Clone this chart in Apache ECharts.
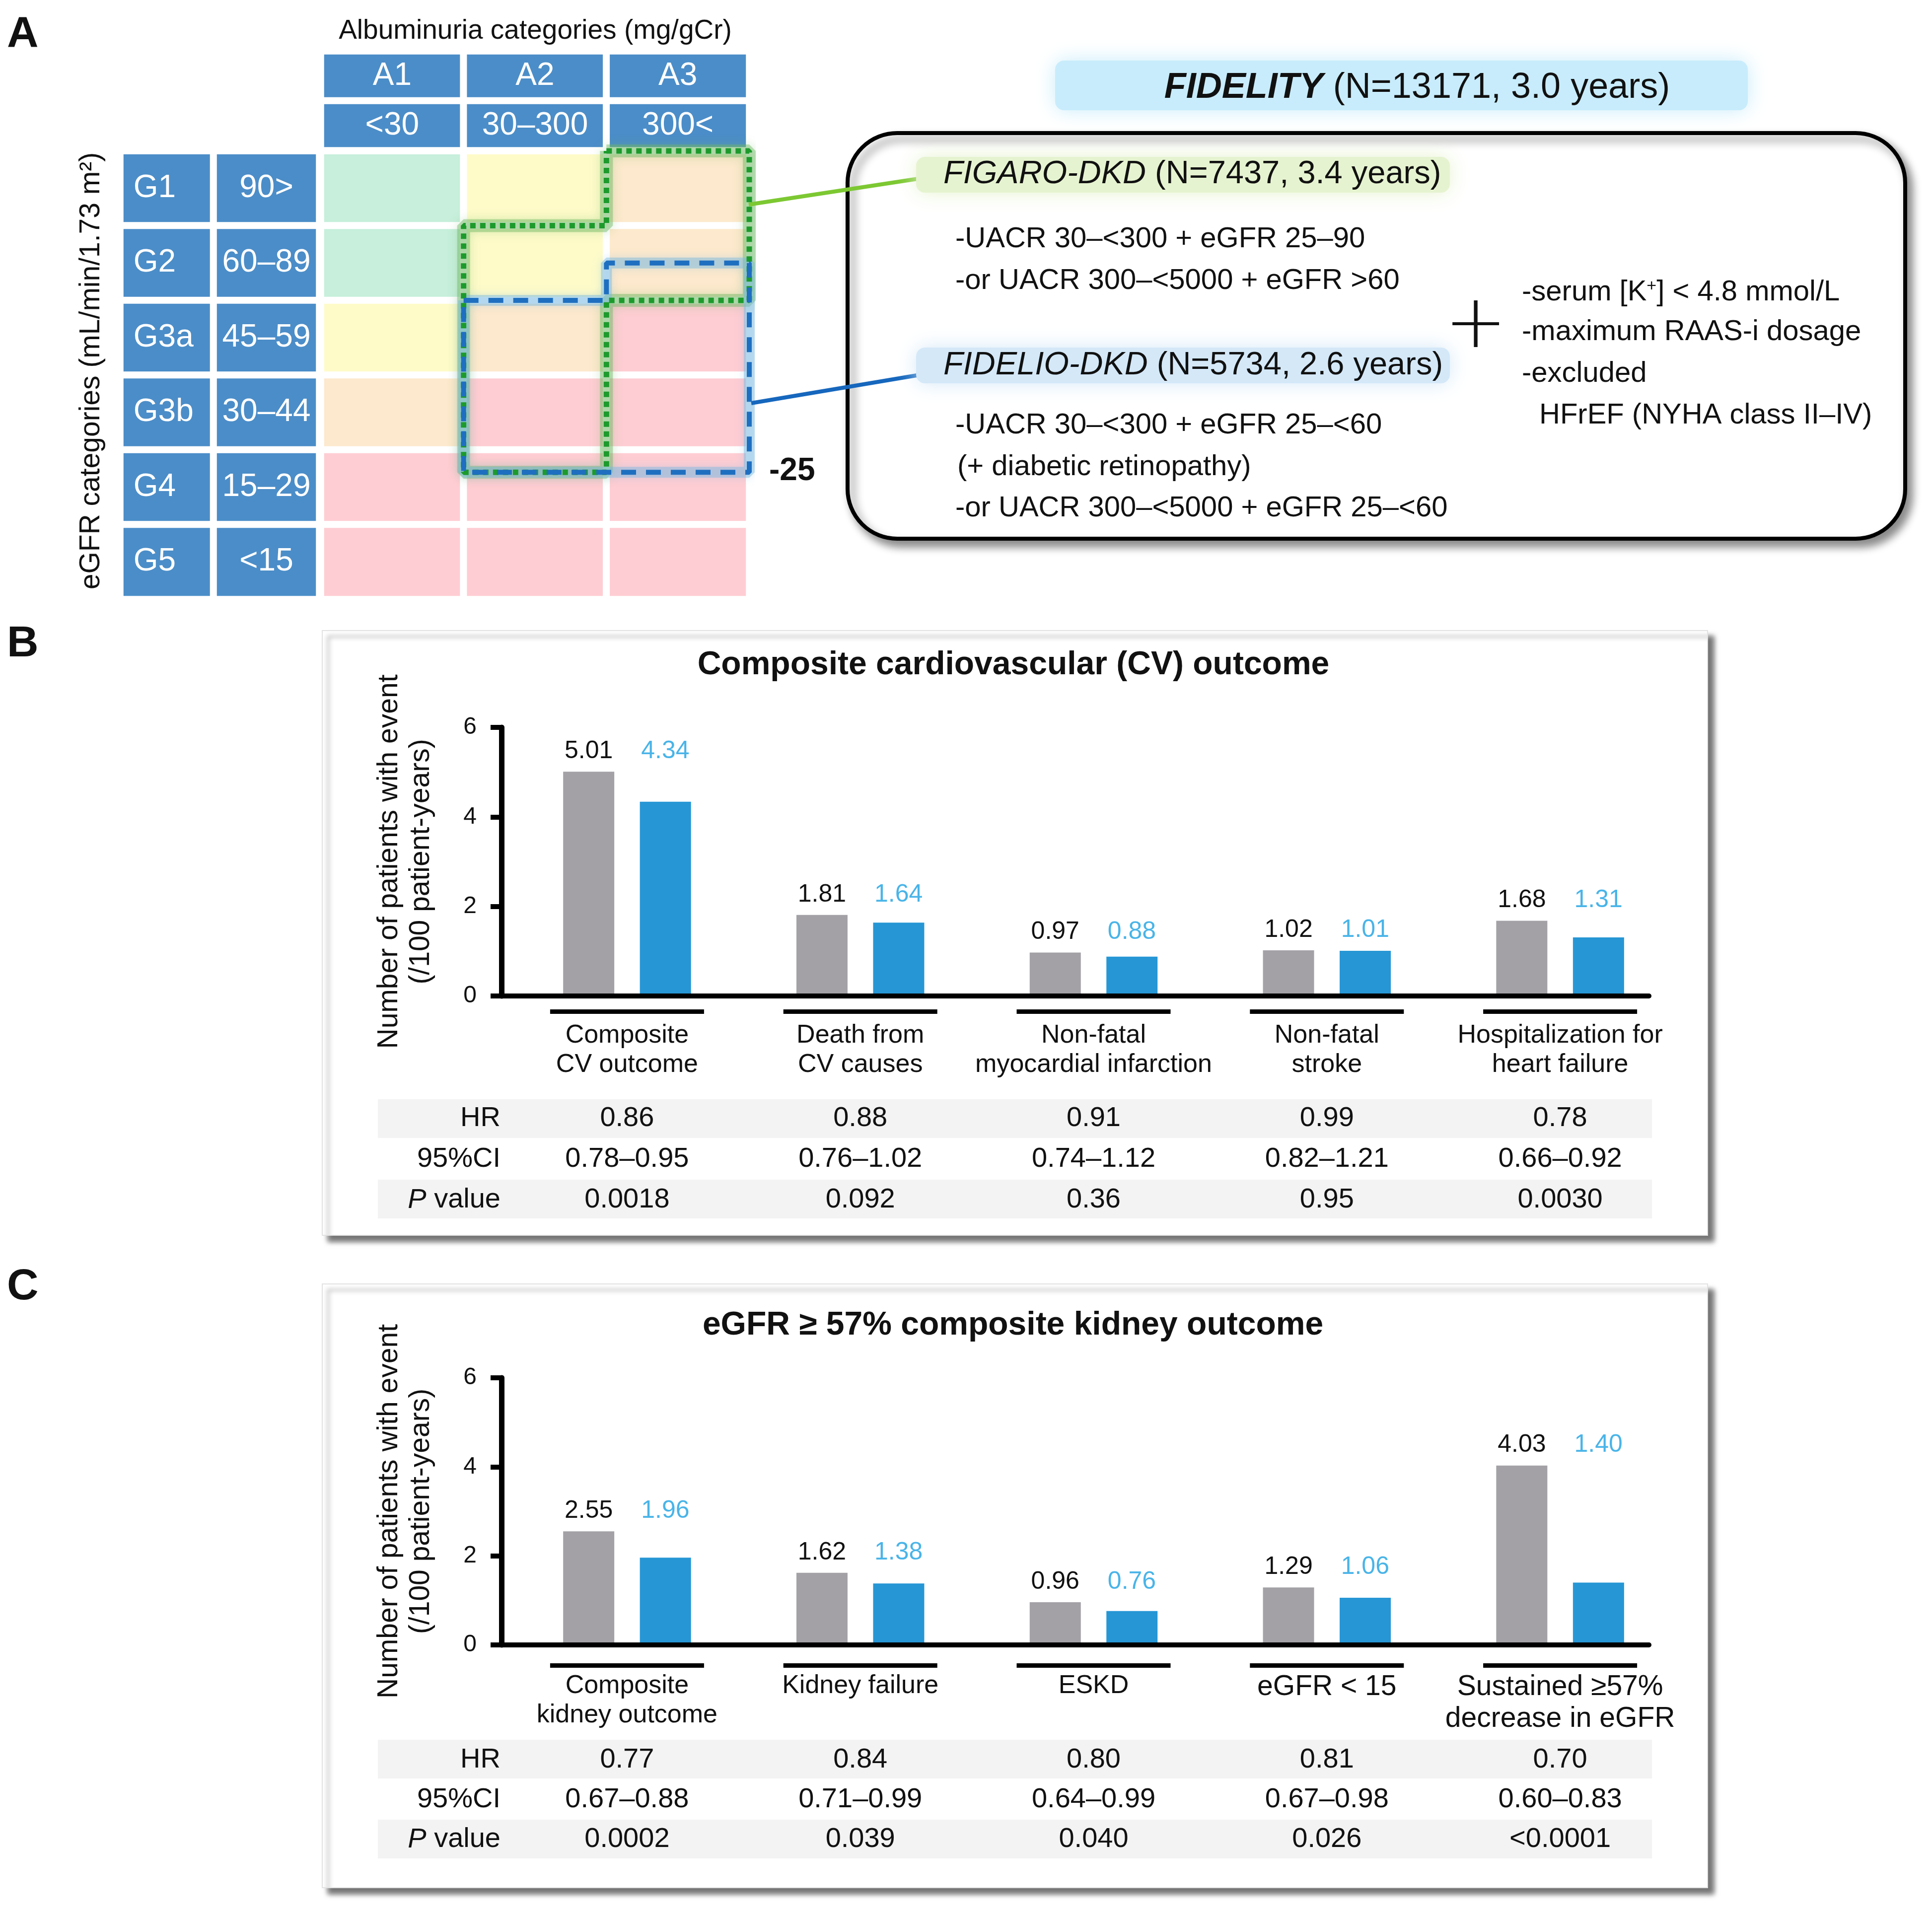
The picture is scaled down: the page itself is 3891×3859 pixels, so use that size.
<!DOCTYPE html>
<html><head><meta charset="utf-8">
<script src="https://cdn.jsdelivr.net/npm/echarts@6/dist/echarts.min.js"></script>
<style>html,body{margin:0;padding:0;background:#fff}#c{width:3891px;height:3859px}</style>
</head><body><div id="c"></div>
<script>
// ---------- Panel A data ----------
const albCodes = ['A1', 'A2', 'A3'];
const albRanges = ['<30', '30–300', '300<'];
const gfrCodes = ['G1', 'G2', 'G3a', 'G3b', 'G4', 'G5'];
const gfrRanges = ['90>', '60–89', '45–59', '30–44', '15–29', '<15'];
// KDIGO risk level per cell (rows G1..G5, columns A1..A3): 0 low, 1 moderate, 2 high, 3 very high
const riskLevels = [[0, 1, 2], [0, 1, 2], [1, 2, 3], [2, 3, 3], [3, 3, 3], [3, 3, 3]];
// trial eligibility outlines in (albuminuria column, eGFR row) units; 4.3 = eGFR 25
const figaroOutline = [[2, 0], [3, 0], [3, 2], [2, 2], [2, 4.3], [1, 4.3], [1, 1], [2, 1], [2, 0]];
const fidelioOutline = [[1, 2], [2, 2], [2, 1.5], [3, 1.5], [3, 4.3], [1, 4.3], [1, 2]];

// ---------- Panel B data ----------
const cvCats = ['Composite\nCV outcome', 'Death from\nCV causes', 'Non-fatal\nmyocardial infarction', 'Non-fatal\nstroke', 'Hospitalization for\nheart failure'];
const cvPlacebo = [5.01, 1.81, 0.97, 1.02, 1.68];
const cvFinerenone = [4.34, 1.64, 0.88, 1.01, 1.31];
const cvHR = ['0.86', '0.88', '0.91', '0.99', '0.78'];
const cvCI = ['0.78–0.95', '0.76–1.02', '0.74–1.12', '0.82–1.21', '0.66–0.92'];
const cvP = ['0.0018', '0.092', '0.36', '0.95', '0.0030'];

// ---------- Panel C data ----------
const kdCats = ['Composite\nkidney outcome', 'Kidney failure', 'ESKD', 'eGFR < 15', 'Sustained ≥57%\ndecrease in eGFR'];
const kdPlacebo = [2.55, 1.62, 0.96, 1.29, 4.03];
const kdFinerenone = [1.96, 1.38, 0.76, 1.06, 1.40];
const kdHR = ['0.77', '0.84', '0.80', '0.81', '0.70'];
const kdCI = ['0.67–0.88', '0.71–0.99', '0.64–0.99', '0.67–0.98', '0.60–0.83'];
const kdP = ['0.0002', '0.039', '0.040', '0.026', '<0.0001'];

const yTicks = [0, 2, 4, 6];

// ---------- styles ----------
const FF = '"Liberation Sans", Arial, Helvetica, sans-serif';
const TXT = '#111';
const headerBlue = '#4b8dc8';
const riskColors = ['#c7efdb', '#fefbc9', '#fde9cd', '#fecdd3'];
const greyBar = '#a3a1a6', blueBar = '#2696d5', blueLabel = '#1ba1e2';

const chart = echarts.init(document.getElementById('c'), null, { renderer: 'canvas', width: 3891, height: 3859 });

const grid = [
  { left: 646, top: 304, width: 863, height: 903 },   // 0 A main
  { left: 646, top: 103, width: 863, height: 200 },   // 1 A top headers
  { left: 242, top: 304, width: 190, height: 903 },   // 2 A G codes
  { left: 430, top: 304, width: 213, height: 903 },   // 3 A eGFR ranges
  { left: 1028, top: 1465, width: 2349, height: 541 },// 4 B bars
  { left: 993, top: 1465, width: 2328, height: 541 }, // 5 B baseline
  { left: 1028, top: 2775, width: 2349, height: 538 },// 6 C bars
  { left: 993, top: 2775, width: 2328, height: 538 }  // 7 C baseline
];

function hid(gridIndex, type, extra) { return Object.assign({ gridIndex, type, show: false }, extra || {}); }

const xAxis = [
  hid(0, 'category', { data: albCodes, position: 'bottom' }),   // 0
  hid(0, 'value', { min: 0, max: 3, position: 'top' }),          // 1
  hid(1, 'category', { data: albCodes, position: 'bottom' }),   // 2
  hid(2, 'category', { data: ['code'], position: 'bottom' }),   // 3
  hid(3, 'category', { data: ['range'], position: 'bottom' })   // 4
];
const yAxis = [
  hid(0, 'category', { data: gfrCodes, inverse: true, position: 'left' }), // 0
  hid(0, 'value', { min: 0, max: 6, inverse: true, position: 'right' }),  // 1
  hid(1, 'category', { data: ['code', 'range'], inverse: true }),         // 2
  hid(2, 'category', { data: gfrCodes, inverse: true }),                  // 3
  hid(3, 'category', { data: gfrCodes, inverse: true })                   // 4
];

const outlineBase = { type: 'line', xAxisIndex: 1, yAxisIndex: 1, symbol: 'none', clip: false, silent: true };
const series = [
  { type: 'heatmap', xAxisIndex: 0, yAxisIndex: 0, silent: true,
    data: riskLevels.flatMap((row, r) => row.map((lvl, c) => [c, r, lvl])),
    itemStyle: { borderColor: '#fff', borderWidth: 14 }, label: { show: false } },
  { type: 'heatmap', xAxisIndex: 2, yAxisIndex: 2, silent: true,
    data: albCodes.flatMap((c, i) => [[i, 0, 4], [i, 1, 4]]),
    itemStyle: { borderColor: '#fff', borderWidth: 14 },
    label: { show: true, color: '#fff', fontSize: 64, fontFamily: FF,
      formatter: p => (p.value[1] === 0 ? albCodes : albRanges)[p.value[0]] } },
  { type: 'heatmap', xAxisIndex: 3, yAxisIndex: 3, silent: true,
    data: gfrCodes.map((g, i) => [0, i, 4]),
    itemStyle: { borderColor: '#fff', borderWidth: 14 },
    label: { show: true, color: '#fff', fontSize: 64, fontFamily: FF, position: 'insideLeft', distance: 34,
      formatter: p => gfrCodes[p.value[1]] } },
  { type: 'heatmap', xAxisIndex: 4, yAxisIndex: 4, silent: true,
    data: gfrRanges.map((g, i) => [0, i, 4]),
    itemStyle: { borderColor: '#fff', borderWidth: 14 },
    label: { show: true, color: '#fff', fontSize: 64, fontFamily: FF,
      formatter: p => gfrRanges[p.value[1]] } },
  // soft halos under the outlines
  Object.assign({ data: figaroOutline, z: 3,
    lineStyle: { color: 'rgba(110,185,100,0.45)', width: 26, shadowBlur: 20, shadowColor: 'rgba(110,185,100,0.6)' } }, outlineBase),
  Object.assign({ data: fidelioOutline, z: 3,
    lineStyle: { color: 'rgba(120,185,225,0.45)', width: 22, shadowBlur: 18, shadowColor: 'rgba(120,185,225,0.6)' } }, outlineBase),
  Object.assign({ data: figaroOutline, z: 5,
    lineStyle: { color: '#1d9a2c', width: 11, type: [11, 9] } }, outlineBase),
  Object.assign({ data: fidelioOutline, z: 6,
    lineStyle: { color: '#1f6fc0', width: 10, type: [30, 20] } }, outlineBase)
];

function barPanel(cfg) {
  const xi = xAxis.length, yi = yAxis.length;
  xAxis.push({ gridIndex: cfg.gBar, type: 'category', data: cfg.cats, position: 'bottom', z: 10,
    axisLine: { show: false }, axisTick: { show: false },
    axisLabel: { interval: 0, margin: cfg.labelMargin, fontSize: 52, lineHeight: 59, color: TXT, fontFamily: FF,
      formatter: cfg.formatter, rich: { big: { fontSize: 57, lineHeight: 64, color: TXT, fontFamily: FF } } } });
  [cfg.hr, cfg.ci, cfg.p].forEach((arr, k) => {
    xAxis.push({ gridIndex: cfg.gBar, type: 'category', data: arr, position: 'bottom', offset: cfg.rowOffsets[k], z: 10,
      axisLine: { show: false }, axisTick: { show: false },
      axisLabel: { interval: 0, margin: 0, verticalAlign: 'middle', fontSize: 56, color: TXT, fontFamily: FF } });
  });
  xAxis.push({ gridIndex: cfg.gBase, type: 'value', min: 0, max: 1, position: 'bottom', z: 9,
    axisLine: { show: true, onZero: false, lineStyle: { color: '#000', width: 10 } },
    axisTick: { show: false }, axisLabel: { show: false }, splitLine: { show: false } });
  yAxis.push({ gridIndex: cfg.gBar, type: 'value', min: yTicks[0], max: yTicks[yTicks.length - 1], interval: yTicks[1] - yTicks[0],
    offset: 18, z: 10,
    axisLine: { show: true, lineStyle: { color: '#000', width: 11 } },
    axisTick: { show: true, length: 22, lineStyle: { color: '#000', width: 10 } },
    axisLabel: { margin: 50, fontSize: 48, color: TXT, fontFamily: FF },
    splitLine: { show: false },
    name: 'Number of patients with event\n(/100 patient-years)', nameLocation: 'middle', nameRotate: 90, nameGap: 130,
    nameMoveOverlap: false,
    nameTextStyle: { fontSize: 57, lineHeight: 64, color: TXT, fontFamily: FF } });
  yAxis.push(hid(cfg.gBase, 'value', { min: 0, max: 6 }));
  const base = { xAxisIndex: xi, yAxisIndex: yi, silent: true };
  series.push(Object.assign({ type: 'bar', data: cfg.placebo, barWidth: 103, barGap: '50%',
    itemStyle: { color: greyBar },
    label: { show: true, position: 'top', distance: 16, fontSize: 50, color: TXT, fontFamily: FF, formatter: p => p.value.toFixed(2) } }, base));
  series.push(Object.assign({ type: 'bar', data: cfg.finer, barWidth: 103, barGap: '50%',
    itemStyle: { color: blueBar } }, base));
  series.push(Object.assign({ type: 'scatter', symbolSize: 0,
    data: cfg.placebo.map((g, i) => [i, Math.max(g, cfg.finer[i]), cfg.finer[i]]),
    label: { show: true, position: 'top', distance: 16, offset: [77, 0], fontSize: 50, color: blueLabel, fontFamily: FF,
      formatter: p => p.value[2].toFixed(2) } }, base));
  series.push(Object.assign({ type: 'custom', clip: false,
    data: cfg.cats.map((c, i) => [i, 0]),
    renderItem: (params, api) => {
      const pt = api.coord([api.value(0), api.value(1)]);
      return { type: 'rect', shape: { x: pt[0] - 155, y: pt[1] + cfg.underGap - 4, width: 310, height: 9 }, style: { fill: '#000' } };
    } }, base));
}

barPanel({ gBar: 4, gBase: 5, cats: cvCats, placebo: cvPlacebo, finer: cvFinerenone, hr: cvHR, ci: cvCI, p: cvP,
  rowOffsets: [247, 329, 411], labelMargin: 50, underGap: 31 });
const bigIdx = new Set([3, 4]);
barPanel({ gBar: 6, gBase: 7, cats: kdCats, placebo: kdPlacebo, finer: kdFinerenone, hr: kdHR, ci: kdCI, p: kdP,
  rowOffsets: [232, 312, 392], labelMargin: 53, underGap: 41,
  formatter: (v, i) => bigIdx.has(i) ? v.split('\n').map(s => '{big|' + s + '}').join('\n') : v });

function T(text, x, y, o) {
  o = o || {};
  return { type: 'text', x, y, rotation: o.rotation || 0, z: o.z || 20, silent: true,
    style: { text, fill: o.fill || TXT, fontSize: o.size || 58, fontFamily: o.family || FF,
      fontWeight: o.weight || 'normal', fontStyle: o.style || 'normal',
      align: o.align || 'left', verticalAlign: 'middle', lineHeight: o.lh, rich: o.rich } };
}
function R(x, y, w, h, style, z, r) {
  return { type: 'rect', z: z, silent: true, shape: { x, y, width: w, height: h, r: r || 0 }, style };
}
function glow(x, y, w, h, color, z, blur) {
  // soft glow: a core rectangle with a wide blurred shadow of the same colour
  return R(x, y, w, h, { fill: color, shadowBlur: blur, shadowColor: color }, z, 18);
}
const it = { fontStyle: 'italic', fontFamily: FF };

const graphic = [
  T('A', 14, 70, { size: 88, weight: 'bold' }),
  T('B', 14, 1298, { size: 88, weight: 'bold' }),
  T('C', 14, 2593, { size: 88, weight: 'bold' }),
  T('Albuminuria categories (mg/gCr)', 1078, 63, { size: 55, align: 'center' }),
  T('eGFR categories (mL/min/1.73 m²)', 184, 747, { size: 57, align: 'center', rotation: Math.PI / 2 }),
  T('-25', 1549, 949, { size: 64, weight: 'bold' }),
  { type: 'line', z: 4, silent: true, shape: { x1: 1508, y1: 412, x2: 1862, y2: 358 }, style: { stroke: '#7cc832', lineWidth: 8 } },
  { type: 'line', z: 4, silent: true, shape: { x1: 1513, y1: 812, x2: 1864, y2: 753 }, style: { stroke: '#1667bd', lineWidth: 8 } },
  // FIDELITY header glow
  glow(2125, 122, 1395, 100, '#c8ecfb', 2, 40),
  T('{b|FIDELITY} (N=13171, 3.0 years)', 2854, 177, { size: 72, align: 'center',
    rich: { b: { fontStyle: 'italic', fontWeight: 'bold', fontSize: 72, fontFamily: FF } } }),
  // rounded criteria box
  R(1707, 268, 2130, 817, { fill: '#fff', stroke: '#000', lineWidth: 8, shadowBlur: 18, shadowOffsetX: 10, shadowOffsetY: 12,
    shadowColor: 'rgba(0,0,0,0.45)' }, 3, 100),
  glow(1845, 316, 1075, 72, '#e6f3d0', 5, 40),
  glow(1845, 700, 1075, 72, '#d4e8f8', 5, 40),
  T('{i|FIGARO-DKD} (N=7437, 3.4 years)', 1900, 351, { size: 65, rich: { i: Object.assign({ fontSize: 65 }, it) } }),
  T('-UACR 30–<300 + eGFR 25–90', 1924, 482),
  T('-or UACR 300–<5000 + eGFR >60', 1924, 566),
  T('{i|FIDELIO-DKD} (N=5734, 2.6 years)', 1900, 736, { size: 65, rich: { i: Object.assign({ fontSize: 65 }, it) } }),
  T('-UACR 30–<300 + eGFR 25–<60', 1924, 857),
  T('(+ diabetic retinopathy)', 1928, 941),
  T('-or UACR 300–<5000 + eGFR 25–<60', 1924, 1024),
  T('+', 2972, 660, { size: 150, align: 'center', weight: 200, family: '"DejaVu Sans", ' + FF }),
  T('-serum [K{s|+}] < 4.8 mmol/L', 3065, 589, { rich: { s: { fontSize: 34, verticalAlign: 'top', fontFamily: FF, lineHeight: 50 } } }),
  T('-maximum RAAS-i dosage', 3065, 669),
  T('-excluded', 3065, 753),
  T('HFrEF (NYHA class II–IV)', 3100, 837),
  // panel B frame
  R(649, 1270, 2790, 1218, { fill: '#fff', stroke: '#e2e2e2', lineWidth: 2, shadowBlur: 10, shadowOffsetX: 12, shadowOffsetY: 12, shadowColor: 'rgba(0,0,0,0.55)' }, -5),
  R(761, 2214, 2566, 78, { fill: '#f3f3f3' }, -4),
  R(761, 2376, 2566, 78, { fill: '#f3f3f3' }, -4),
  T('Composite cardiovascular (CV) outcome', 2041, 1340, { size: 66, weight: 'bold', align: 'center' }),
  T('HR', 1008, 2253, { size: 56, align: 'right' }),
  T('95%CI', 1008, 2335, { size: 56, align: 'right' }),
  T('{i|P} value', 1008, 2417, { size: 56, align: 'right', rich: { i: Object.assign({ fontSize: 56 }, it) } }),
  // panel C frame
  R(649, 2586, 2790, 1216, { fill: '#fff', stroke: '#e2e2e2', lineWidth: 2, shadowBlur: 10, shadowOffsetX: 12, shadowOffsetY: 12, shadowColor: 'rgba(0,0,0,0.55)' }, -5),
  R(761, 3504, 2566, 78, { fill: '#f3f3f3' }, -4),
  R(761, 3665, 2566, 78, { fill: '#f3f3f3' }, -4),
  T('eGFR ≥ 57% composite kidney outcome', 2040, 2670, { size: 66, weight: 'bold', align: 'center' }),
  T('HR', 1008, 3545, { size: 56, align: 'right' }),
  T('95%CI', 1008, 3625, { size: 56, align: 'right' }),
  T('{i|P} value', 1008, 3705, { size: 56, align: 'right', rich: { i: Object.assign({ fontSize: 56 }, it) } })
];

chart.setOption({
  animation: false,
  backgroundColor: '#fff',
  textStyle: { fontFamily: FF },
  grid, xAxis, yAxis,
  visualMap: { type: 'piecewise', show: false, seriesIndex: [0, 1, 2, 3], dimension: 2,
    pieces: riskColors.map((c, i) => ({ value: i, color: c })).concat([{ value: 4, color: headerBlue }]) },
  graphic: { elements: graphic },
  series
});
</script></body></html>
